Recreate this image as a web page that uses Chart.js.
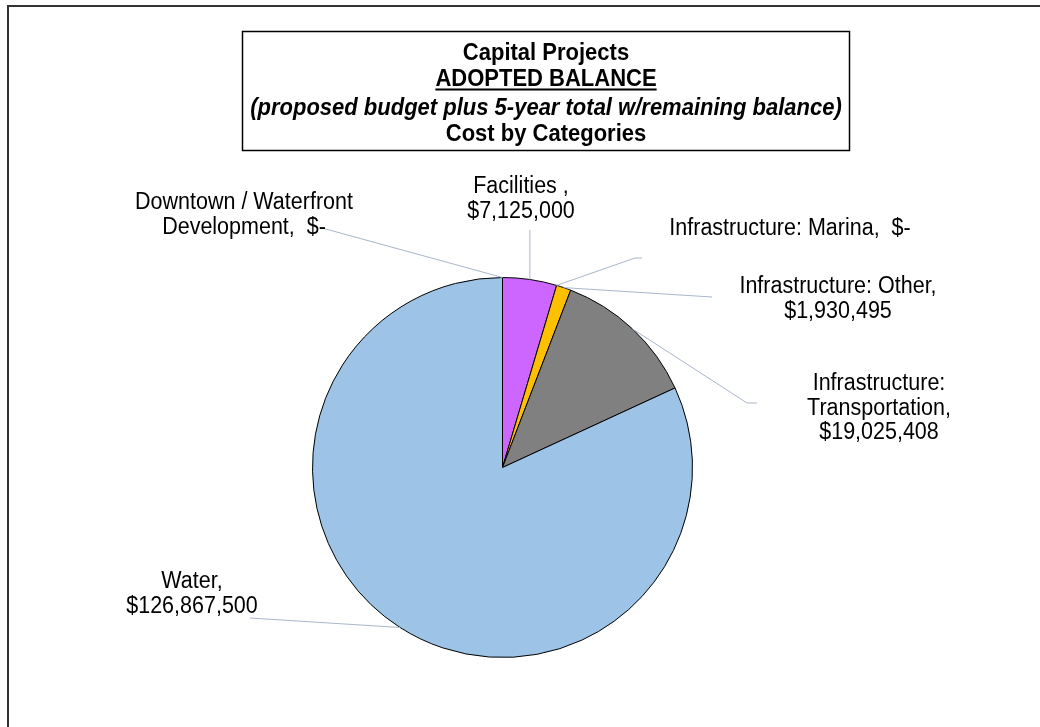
<!DOCTYPE html>
<html>
<head>
<meta charset="utf-8">
<title>Capital Projects - Cost by Categories</title>
<script src="https://cdn.jsdelivr.net/npm/chart.js@4/dist/chart.umd.min.js"></script>
<style>
  html, body { margin: 0; padding: 0; background: #fff; }
  #chart { display: block; }
</style>
</head>
<body>
<canvas id="chart" width="1040" height="727"></canvas>
<script>
// Chart data
const categories = [
  'Downtown / Waterfront Development',
  'Facilities',
  'Infrastructure: Marina',
  'Infrastructure: Other',
  'Infrastructure: Transportation',
  'Water'
];
const costs = [0, 7125000, 0, 1930495, 19025408, 126867500];

// how each data label is broken into lines (value is appended)
const labelNames = [
  'Downtown / Waterfront\nDevelopment,  ',
  'Facilities ,\n',
  'Infrastructure: Marina,  ',
  'Infrastructure: Other,\n',
  'Infrastructure:\nTransportation,\n',
  'Water,\n'
];
const titleLines = [
  'Capital Projects',
  'ADOPTED BALANCE',
  '(proposed budget plus 5-year total w/remaining balance)',
  'Cost by Categories'
];

// styles / layout
const sliceColors = ['#9DC3E6', '#CC66FF', '#A5A5A5', '#FFC000', '#808080', '#9DC3E6'];
const labelFont = '21.5px Arial, "Liberation Sans", sans-serif';
const leaderColor = '#A9B7CA';
const textStretch = 1.1; // source text is a bit taller than Arial
// x = centre of text, y = baseline of first line, pts = leader line points (from label side),
// edge = where on the slice the line ends ('start' or 'mid')
const labelLayout = [
  { x: 244, y: 209, pts: [[322, 228]], edge: 'start' },
  { x: 521, y: 193, pts: [[530, 230]], edge: 'mid', vertical: true },
  { x: 790, y: 235, pts: [[642, 258], [635, 258]], edge: 'start' },
  { x: 838, y: 293, pts: [[712, 297]], edge: 'mid' },
  { x: 879, y: 390, pts: [[757, 403], [747, 403]], edge: 'mid' },
  { x: 192, y: 588, pts: [[250, 618]], edge: 'mid' }
];

function fmtCost(v) {
  return v === 0 ? '$-' : '$' + v.toLocaleString('en-US');
}

function tallText(ctx, t, x, y) {
  ctx.save();
  ctx.translate(x, y);
  ctx.scale(1, textStretch);
  ctx.fillText(t, 0, 0);
  ctx.restore();
}

const decorPlugin = {
  id: 'decor',
  beforeDraw(chart) {
    const ctx = chart.ctx;
    ctx.save();
    ctx.fillStyle = '#fff';
    ctx.fillRect(0, 0, chart.width, chart.height);
    // outer frame (top + left)
    ctx.strokeStyle = '#333';
    ctx.lineWidth = 2;
    ctx.beginPath();
    ctx.moveTo(8, 727);
    ctx.lineTo(8, 6);
    ctx.lineTo(1040, 6);
    ctx.stroke();

    // title box
    ctx.lineWidth = 1.5;
    ctx.strokeStyle = '#000';
    ctx.strokeRect(242.5, 31.5, 607, 119);
    ctx.fillStyle = '#000';
    ctx.textAlign = 'center';
    ctx.textBaseline = 'alphabetic';
    const cx = 546;
    const baselines = [60, 86, 114.5, 140.5];
    titleLines.forEach((t, i) => {
      ctx.font = (i === 2 ? 'italic ' : '') + 'bold 22px Arial, "Liberation Sans", sans-serif';
      tallText(ctx, t, cx, baselines[i]);
      if (i === 1) {
        const w = ctx.measureText(t).width;
        ctx.fillRect(cx - w / 2, baselines[i] + 2.5, w, 2);
      }
    });
    ctx.restore();
  },
  afterDatasetsDraw(chart) {
    const ctx = chart.ctx;
    const arcs = chart.getDatasetMeta(0).data;
    ctx.save();
    // leader lines
    ctx.strokeStyle = leaderColor;
    ctx.lineWidth = 1;
    arcs.forEach((arc, i) => {
      const lay = labelLayout[i];
      const p = arc.getProps(['x', 'y', 'startAngle', 'endAngle', 'outerRadius'], true);
      const a = lay.edge === 'start' ? p.startAngle : (p.startAngle + p.endAngle) / 2;
      const ex = p.x + Math.cos(a) * p.outerRadius;
      const ey = p.y + Math.sin(a) * p.outerRadius;
      ctx.beginPath();
      const first = lay.pts[0];
      ctx.moveTo(lay.vertical ? ex : first[0], first[1]);
      for (let k = 1; k < lay.pts.length; k++) ctx.lineTo(lay.pts[k][0], lay.pts[k][1]);
      ctx.lineTo(ex, ey);
      ctx.stroke();
    });
    // data labels
    ctx.fillStyle = '#000';
    ctx.font = labelFont;
    ctx.textAlign = 'center';
    ctx.textBaseline = 'alphabetic';
    arcs.forEach((arc, i) => {
      const lay = labelLayout[i];
      const lines = (labelNames[i] + fmtCost(costs[i])).split('\n');
      lines.forEach((ln, j) => tallText(ctx, ln, lay.x, lay.y + j * 24.5));
    });
    ctx.restore();
  }
};

new Chart(document.getElementById('chart'), {
  type: 'pie',
  data: {
    labels: categories,
    datasets: [{
      data: costs,
      backgroundColor: sliceColors,
      borderColor: '#000',
      borderWidth: 1
    }]
  },
  options: {
    responsive: false,
    animation: false,
    layout: { padding: { left: 312, right: 347, top: 277, bottom: 69 } },
    plugins: {
      legend: { display: false },
      tooltip: { enabled: false },
      title: { display: false }
    }
  },
  plugins: [decorPlugin]
});
</script>
</body>
</html>
